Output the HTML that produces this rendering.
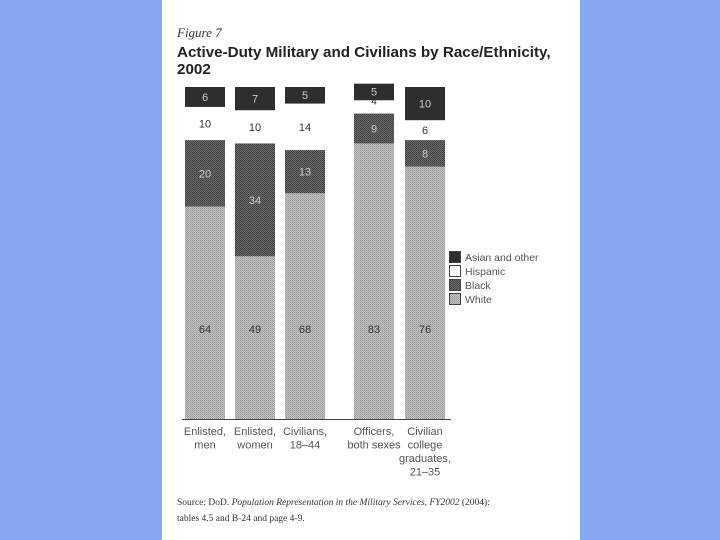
<!DOCTYPE html>
<html><head><meta charset="utf-8">
<style>
html,body{margin:0;padding:0;width:720px;height:540px;overflow:hidden;background:#86a8f2;}
#page{position:absolute;left:162px;top:0;width:418px;height:540px;background:#fff;}
svg{position:absolute;left:0;top:0;}
</style></head><body>
<div id="page"></div>
<svg id="chart" width="720" height="540">
<defs>
<pattern id="pw" width="2" height="2" patternUnits="userSpaceOnUse"><rect width="2" height="2" fill="#c0c0c0"/><rect width="1" height="1" fill="#9c9c9c"/><rect x="1" y="1" width="1" height="1" fill="#a8a8a8"/></pattern>
<pattern id="pb" width="2" height="2" patternUnits="userSpaceOnUse"><rect width="2" height="2" fill="#6a6a6a"/><rect width="1" height="1" fill="#3e3e3e"/><rect x="1" y="1" width="1" height="1" fill="#484848"/></pattern>
</defs>
<text x="177" y="37" font-family="Liberation Serif, serif" font-style="italic" font-size="13" fill="#333">Figure 7</text>
<text x="177" y="57" font-family="Liberation Sans, sans-serif" font-weight="bold" font-size="15.2" fill="#222">Active-Duty Military and Civilians by Race/Ethnicity,</text>
<text x="177" y="74" font-family="Liberation Sans, sans-serif" font-weight="bold" font-size="15.2" fill="#222">2002</text>
<g id="bars"></g>
<line x1="182" y1="419.5" x2="451" y2="419.5" stroke="#444" stroke-width="1"/>
<g id="legend" font-family="Liberation Sans, sans-serif" font-size="10.5" fill="#555"></g>
<text x="177" y="505" font-family="Liberation Serif, serif" font-size="9.5" fill="#333">Source: DoD. <tspan font-style="italic">Population Representation in the Military Services, FY2002</tspan> (2004):</text>
<text x="177" y="521" font-family="Liberation Serif, serif" font-size="9.5" fill="#333">tables 4.5 and B-24 and page 4-9.</text>
</svg>
<script>
const categories = [["Enlisted,","men"],["Enlisted,","women"],["Civilians,","18–44"],["Officers,","both sexes"],["Civilian","college","graduates,","21–35"]];
const white = [64,49,68,83,76];
const black = [20,34,13,9,8];
const hispanic = [10,10,14,4,6];
const asian = [6,7,5,5,10];
const seriesNames = ["Asian and other","Hispanic","Black","White"];

const NS="http://www.w3.org/2000/svg";
const barX=[185,235,285,354,405], barW=40;
const y0=419, pxPer=3.32;
function yScale(v){return y0 - v*pxPer;}
function mk(tag,attrs,parent){const e=document.createElementNS(NS,tag);for(const k in attrs)e.setAttribute(k,attrs[k]);parent.appendChild(e);return e;}
const g=document.getElementById('bars');
const fills=["url(#pw)","url(#pb)","none","#2e2e2e"];
const txtCol=["#333","#ccc","#333","#ccc"];
const names=["white","black","hispanic","asian"];
categories.forEach((cat,i)=>{
  const vals=[white[i],black[i],hispanic[i],asian[i]];
  let cum=0;
  vals.forEach((v,s)=>{
    const top=yScale(cum+v), bot=yScale(cum);
    if(s!==2){
      const r=mk('rect',{x:barX[i],y:top,width:barW,height:bot-top,fill:fills[s]},g);
      
      
    }
    let ly=(top+bot)/2+4;
    if(s===0) ly=333;
    if(s===3 && v<=5) ly=top+12;
    if(s===2 && v<=4) ly=top+4;
    const fs=(s===2&&v<=4)?10:11;
    const t=mk('text',{x:barX[i]+barW/2,y:ly,'text-anchor':'middle','font-family':'Liberation Sans, sans-serif','font-size':fs,fill:txtCol[s]},g);
    t.textContent=v;
    
    
    cum+=v;
  });
  cat.forEach((line,j)=>{
    const t=mk('text',{x:barX[i]+barW/2,y:435+j*13.5,'text-anchor':'middle','font-family':'Liberation Sans, sans-serif','font-size':11,fill:'#555'},g);
    t.textContent=line;
    
    
  });
});
const lg=document.getElementById('legend');
const lfill=["#2e2e2e","#fff","url(#pb)","url(#pw)"];
seriesNames.forEach((n,k)=>{
  const yy=252+k*14;
  const r=mk('rect',{x:449.5,y:yy-0.5,width:11,height:11,fill:lfill[k],stroke:'#444','stroke-width':1},lg);
  
  
  const t=mk('text',{x:465,y:yy+9},lg);
  t.textContent=n;
  
  
});
</script>
</body></html>
